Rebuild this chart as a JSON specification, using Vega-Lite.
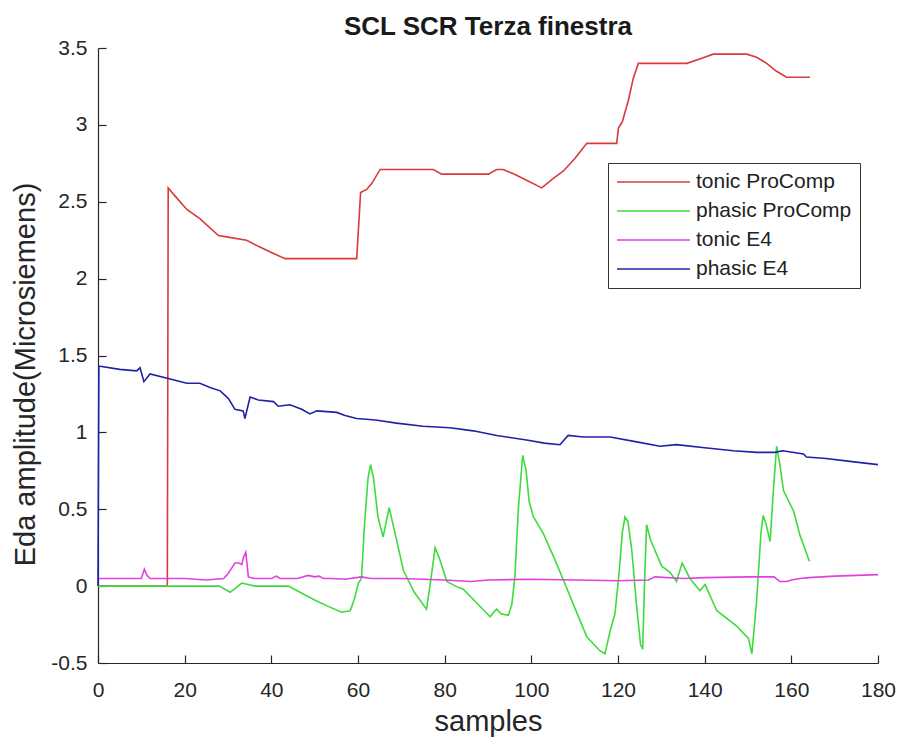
{
  "$schema": "https://vega.github.io/schema/vega-lite/v6.json",
  "width": 780,
  "height": 615,
  "autosize": "none",
  "padding": {"left": 98, "top": 48, "right": 24, "bottom": 82},
  "background": "white",
  "title": {"text": "SCL SCR Terza finestra", "font": "Liberation Sans", "fontSize": 26, "fontWeight": "bold", "color": "#1a1a1a", "anchor": "middle", "offset": -3},
  "config": {
    "view": {"stroke": null},
    "axis": {"grid": false, "labelFlush": false, "domainColor": "#262626", "tickColor": "#262626", "domainWidth": 1.2, "tickWidth": 1.2, "tickSize": -8, "labelFont": "Liberation Sans", "labelFontSize": 21, "labelColor": "#262626", "titleFont": "Liberation Sans", "titleFontSize": 29, "titleFontWeight": "normal", "titleColor": "#262626"}
  },
  "data": {"values": [
    {"s": "tonic ProComp", "x": 0, "y": 0}, {"s": "tonic ProComp", "x": 16, "y": 0}, {"s": "tonic ProComp", "x": 16.2, "y": 2.59}, {"s": "tonic ProComp", "x": 18, "y": 2.53}, {"s": "tonic ProComp", "x": 20.5, "y": 2.45}, {"s": "tonic ProComp", "x": 23.5, "y": 2.39}, {"s": "tonic ProComp", "x": 27.8, "y": 2.28}, {"s": "tonic ProComp", "x": 30, "y": 2.27}, {"s": "tonic ProComp", "x": 34.3, "y": 2.25}, {"s": "tonic ProComp", "x": 37, "y": 2.21}, {"s": "tonic ProComp", "x": 40, "y": 2.17}, {"s": "tonic ProComp", "x": 43.2, "y": 2.13}, {"s": "tonic ProComp", "x": 59.7, "y": 2.13}, {"s": "tonic ProComp", "x": 60.6, "y": 2.56}, {"s": "tonic ProComp", "x": 62, "y": 2.58}, {"s": "tonic ProComp", "x": 63.2, "y": 2.62}, {"s": "tonic ProComp", "x": 65.1, "y": 2.71}, {"s": "tonic ProComp", "x": 77.4, "y": 2.71}, {"s": "tonic ProComp", "x": 79.3, "y": 2.68}, {"s": "tonic ProComp", "x": 90.1, "y": 2.68}, {"s": "tonic ProComp", "x": 92, "y": 2.71}, {"s": "tonic ProComp", "x": 93.5, "y": 2.71}, {"s": "tonic ProComp", "x": 96, "y": 2.68}, {"s": "tonic ProComp", "x": 98.9, "y": 2.64}, {"s": "tonic ProComp", "x": 102.4, "y": 2.59}, {"s": "tonic ProComp", "x": 105, "y": 2.65}, {"s": "tonic ProComp", "x": 107.4, "y": 2.7}, {"s": "tonic ProComp", "x": 110, "y": 2.78}, {"s": "tonic ProComp", "x": 112.8, "y": 2.88}, {"s": "tonic ProComp", "x": 119.7, "y": 2.88}, {"s": "tonic ProComp", "x": 120.1, "y": 2.98}, {"s": "tonic ProComp", "x": 121, "y": 3.02}, {"s": "tonic ProComp", "x": 122.4, "y": 3.16}, {"s": "tonic ProComp", "x": 123.5, "y": 3.3}, {"s": "tonic ProComp", "x": 124.7, "y": 3.4}, {"s": "tonic ProComp", "x": 135.9, "y": 3.4}, {"s": "tonic ProComp", "x": 139, "y": 3.43}, {"s": "tonic ProComp", "x": 142, "y": 3.46}, {"s": "tonic ProComp", "x": 149.7, "y": 3.46}, {"s": "tonic ProComp", "x": 152, "y": 3.44}, {"s": "tonic ProComp", "x": 154.3, "y": 3.4}, {"s": "tonic ProComp", "x": 156.5, "y": 3.35}, {"s": "tonic ProComp", "x": 158.9, "y": 3.31}, {"s": "tonic ProComp", "x": 164.3, "y": 3.31},

    {"s": "phasic ProComp", "x": 0, "y": 0}, {"s": "phasic ProComp", "x": 28, "y": 0}, {"s": "phasic ProComp", "x": 30.5, "y": -0.04}, {"s": "phasic ProComp", "x": 33.2, "y": 0.02}, {"s": "phasic ProComp", "x": 36.2, "y": 0}, {"s": "phasic ProComp", "x": 43.9, "y": 0}, {"s": "phasic ProComp", "x": 46.6, "y": -0.04}, {"s": "phasic ProComp", "x": 50, "y": -0.09}, {"s": "phasic ProComp", "x": 53, "y": -0.13}, {"s": "phasic ProComp", "x": 56.2, "y": -0.17}, {"s": "phasic ProComp", "x": 58.2, "y": -0.16}, {"s": "phasic ProComp", "x": 59.2, "y": -0.08}, {"s": "phasic ProComp", "x": 60.1, "y": 0.02}, {"s": "phasic ProComp", "x": 60.8, "y": 0.05}, {"s": "phasic ProComp", "x": 61.5, "y": 0.4}, {"s": "phasic ProComp", "x": 62.3, "y": 0.7}, {"s": "phasic ProComp", "x": 62.9, "y": 0.79}, {"s": "phasic ProComp", "x": 63.6, "y": 0.7}, {"s": "phasic ProComp", "x": 64.6, "y": 0.45}, {"s": "phasic ProComp", "x": 65.8, "y": 0.32}, {"s": "phasic ProComp", "x": 67.2, "y": 0.51}, {"s": "phasic ProComp", "x": 68.5, "y": 0.35}, {"s": "phasic ProComp", "x": 70.5, "y": 0.1}, {"s": "phasic ProComp", "x": 73, "y": -0.04}, {"s": "phasic ProComp", "x": 75.8, "y": -0.15}, {"s": "phasic ProComp", "x": 76.6, "y": 0}, {"s": "phasic ProComp", "x": 77.8, "y": 0.25}, {"s": "phasic ProComp", "x": 78.8, "y": 0.18}, {"s": "phasic ProComp", "x": 80.5, "y": 0.03}, {"s": "phasic ProComp", "x": 82.5, "y": 0}, {"s": "phasic ProComp", "x": 84.3, "y": -0.02}, {"s": "phasic ProComp", "x": 87.4, "y": -0.11}, {"s": "phasic ProComp", "x": 90.5, "y": -0.2}, {"s": "phasic ProComp", "x": 91.3, "y": -0.17}, {"s": "phasic ProComp", "x": 92, "y": -0.15}, {"s": "phasic ProComp", "x": 93, "y": -0.18}, {"s": "phasic ProComp", "x": 94.7, "y": -0.19}, {"s": "phasic ProComp", "x": 95.5, "y": -0.12}, {"s": "phasic ProComp", "x": 96.2, "y": 0.06}, {"s": "phasic ProComp", "x": 97, "y": 0.5}, {"s": "phasic ProComp", "x": 98, "y": 0.85}, {"s": "phasic ProComp", "x": 98.8, "y": 0.75}, {"s": "phasic ProComp", "x": 99.5, "y": 0.55}, {"s": "phasic ProComp", "x": 100.5, "y": 0.45}, {"s": "phasic ProComp", "x": 102.8, "y": 0.34}, {"s": "phasic ProComp", "x": 105, "y": 0.2}, {"s": "phasic ProComp", "x": 107.4, "y": 0.04}, {"s": "phasic ProComp", "x": 110, "y": -0.14}, {"s": "phasic ProComp", "x": 112.8, "y": -0.33}, {"s": "phasic ProComp", "x": 115.8, "y": -0.42}, {"s": "phasic ProComp", "x": 117, "y": -0.44}, {"s": "phasic ProComp", "x": 118.2, "y": -0.29}, {"s": "phasic ProComp", "x": 119.3, "y": -0.18}, {"s": "phasic ProComp", "x": 120.3, "y": 0.1}, {"s": "phasic ProComp", "x": 121, "y": 0.35}, {"s": "phasic ProComp", "x": 121.6, "y": 0.45}, {"s": "phasic ProComp", "x": 122.3, "y": 0.42}, {"s": "phasic ProComp", "x": 123.2, "y": 0.23}, {"s": "phasic ProComp", "x": 124.2, "y": -0.1}, {"s": "phasic ProComp", "x": 125.2, "y": -0.38}, {"s": "phasic ProComp", "x": 125.7, "y": -0.41}, {"s": "phasic ProComp", "x": 126.1, "y": 0}, {"s": "phasic ProComp", "x": 126.6, "y": 0.4}, {"s": "phasic ProComp", "x": 127.5, "y": 0.3}, {"s": "phasic ProComp", "x": 130.1, "y": 0.13}, {"s": "phasic ProComp", "x": 132, "y": 0.09}, {"s": "phasic ProComp", "x": 133.5, "y": 0.03}, {"s": "phasic ProComp", "x": 134.8, "y": 0.15}, {"s": "phasic ProComp", "x": 136.6, "y": 0.05}, {"s": "phasic ProComp", "x": 138.9, "y": -0.03}, {"s": "phasic ProComp", "x": 140.1, "y": 0.01}, {"s": "phasic ProComp", "x": 142.8, "y": -0.16}, {"s": "phasic ProComp", "x": 147.4, "y": -0.26}, {"s": "phasic ProComp", "x": 150.1, "y": -0.34}, {"s": "phasic ProComp", "x": 150.9, "y": -0.44}, {"s": "phasic ProComp", "x": 152, "y": -0.09}, {"s": "phasic ProComp", "x": 153, "y": 0.35}, {"s": "phasic ProComp", "x": 153.5, "y": 0.46}, {"s": "phasic ProComp", "x": 154.2, "y": 0.4}, {"s": "phasic ProComp", "x": 155.1, "y": 0.29}, {"s": "phasic ProComp", "x": 155.8, "y": 0.6}, {"s": "phasic ProComp", "x": 156.6, "y": 0.91}, {"s": "phasic ProComp", "x": 157.3, "y": 0.8}, {"s": "phasic ProComp", "x": 158.2, "y": 0.62}, {"s": "phasic ProComp", "x": 160.5, "y": 0.49}, {"s": "phasic ProComp", "x": 162, "y": 0.33}, {"s": "phasic ProComp", "x": 164.2, "y": 0.16},

    {"s": "tonic E4", "x": 0, "y": 0.05}, {"s": "tonic E4", "x": 10, "y": 0.05}, {"s": "tonic E4", "x": 10.7, "y": 0.11}, {"s": "tonic E4", "x": 11.3, "y": 0.07}, {"s": "tonic E4", "x": 12, "y": 0.05}, {"s": "tonic E4", "x": 20, "y": 0.05}, {"s": "tonic E4", "x": 25, "y": 0.04}, {"s": "tonic E4", "x": 29, "y": 0.05}, {"s": "tonic E4", "x": 30, "y": 0.08}, {"s": "tonic E4", "x": 31.6, "y": 0.15}, {"s": "tonic E4", "x": 32.5, "y": 0.15}, {"s": "tonic E4", "x": 33.2, "y": 0.14}, {"s": "tonic E4", "x": 33.6, "y": 0.19}, {"s": "tonic E4", "x": 34.1, "y": 0.22}, {"s": "tonic E4", "x": 34.7, "y": 0.06}, {"s": "tonic E4", "x": 36, "y": 0.05}, {"s": "tonic E4", "x": 40, "y": 0.05}, {"s": "tonic E4", "x": 41.2, "y": 0.065}, {"s": "tonic E4", "x": 42, "y": 0.05}, {"s": "tonic E4", "x": 46, "y": 0.05}, {"s": "tonic E4", "x": 48.5, "y": 0.07}, {"s": "tonic E4", "x": 50, "y": 0.06}, {"s": "tonic E4", "x": 51, "y": 0.065}, {"s": "tonic E4", "x": 52, "y": 0.05}, {"s": "tonic E4", "x": 54, "y": 0.05}, {"s": "tonic E4", "x": 57, "y": 0.045}, {"s": "tonic E4", "x": 60.8, "y": 0.06}, {"s": "tonic E4", "x": 63, "y": 0.05}, {"s": "tonic E4", "x": 70, "y": 0.05}, {"s": "tonic E4", "x": 80, "y": 0.04}, {"s": "tonic E4", "x": 86, "y": 0.03}, {"s": "tonic E4", "x": 90, "y": 0.04}, {"s": "tonic E4", "x": 100, "y": 0.045}, {"s": "tonic E4", "x": 110, "y": 0.04}, {"s": "tonic E4", "x": 120, "y": 0.035}, {"s": "tonic E4", "x": 127, "y": 0.04}, {"s": "tonic E4", "x": 128.5, "y": 0.06}, {"s": "tonic E4", "x": 135, "y": 0.05}, {"s": "tonic E4", "x": 140, "y": 0.055}, {"s": "tonic E4", "x": 150, "y": 0.06}, {"s": "tonic E4", "x": 156, "y": 0.06}, {"s": "tonic E4", "x": 157.4, "y": 0.03}, {"s": "tonic E4", "x": 159, "y": 0.03}, {"s": "tonic E4", "x": 160, "y": 0.04}, {"s": "tonic E4", "x": 162, "y": 0.05}, {"s": "tonic E4", "x": 164, "y": 0.055}, {"s": "tonic E4", "x": 170, "y": 0.065}, {"s": "tonic E4", "x": 175, "y": 0.07}, {"s": "tonic E4", "x": 180, "y": 0.075},

    {"s": "phasic E4", "x": 0, "y": 0}, {"s": "phasic E4", "x": 0.2, "y": 1.43}, {"s": "phasic E4", "x": 0.5, "y": 1.43}, {"s": "phasic E4", "x": 5, "y": 1.41}, {"s": "phasic E4", "x": 8.9, "y": 1.4}, {"s": "phasic E4", "x": 9.7, "y": 1.42}, {"s": "phasic E4", "x": 10.6, "y": 1.33}, {"s": "phasic E4", "x": 12, "y": 1.38}, {"s": "phasic E4", "x": 16.2, "y": 1.35}, {"s": "phasic E4", "x": 20.5, "y": 1.32}, {"s": "phasic E4", "x": 23.5, "y": 1.32}, {"s": "phasic E4", "x": 26, "y": 1.29}, {"s": "phasic E4", "x": 28.2, "y": 1.27}, {"s": "phasic E4", "x": 30.1, "y": 1.22}, {"s": "phasic E4", "x": 31.6, "y": 1.15}, {"s": "phasic E4", "x": 33.5, "y": 1.14}, {"s": "phasic E4", "x": 33.9, "y": 1.09}, {"s": "phasic E4", "x": 35.1, "y": 1.23}, {"s": "phasic E4", "x": 37, "y": 1.21}, {"s": "phasic E4", "x": 40.5, "y": 1.2}, {"s": "phasic E4", "x": 41.6, "y": 1.17}, {"s": "phasic E4", "x": 44.3, "y": 1.18}, {"s": "phasic E4", "x": 47, "y": 1.15}, {"s": "phasic E4", "x": 48.9, "y": 1.12}, {"s": "phasic E4", "x": 50.5, "y": 1.14}, {"s": "phasic E4", "x": 55.1, "y": 1.13}, {"s": "phasic E4", "x": 57, "y": 1.11}, {"s": "phasic E4", "x": 59.7, "y": 1.09}, {"s": "phasic E4", "x": 64, "y": 1.08}, {"s": "phasic E4", "x": 68.9, "y": 1.06}, {"s": "phasic E4", "x": 75, "y": 1.04}, {"s": "phasic E4", "x": 81.2, "y": 1.03}, {"s": "phasic E4", "x": 86.6, "y": 1.01}, {"s": "phasic E4", "x": 92, "y": 0.98}, {"s": "phasic E4", "x": 98.9, "y": 0.95}, {"s": "phasic E4", "x": 103, "y": 0.93}, {"s": "phasic E4", "x": 106.6, "y": 0.92}, {"s": "phasic E4", "x": 108.5, "y": 0.98}, {"s": "phasic E4", "x": 112, "y": 0.97}, {"s": "phasic E4", "x": 118.2, "y": 0.97}, {"s": "phasic E4", "x": 124, "y": 0.94}, {"s": "phasic E4", "x": 129.7, "y": 0.91}, {"s": "phasic E4", "x": 133.5, "y": 0.92}, {"s": "phasic E4", "x": 140, "y": 0.9}, {"s": "phasic E4", "x": 146.6, "y": 0.88}, {"s": "phasic E4", "x": 152, "y": 0.87}, {"s": "phasic E4", "x": 156.2, "y": 0.87}, {"s": "phasic E4", "x": 158, "y": 0.88}, {"s": "phasic E4", "x": 162.8, "y": 0.86}, {"s": "phasic E4", "x": 163.5, "y": 0.84}, {"s": "phasic E4", "x": 168, "y": 0.83}, {"s": "phasic E4", "x": 174, "y": 0.81}, {"s": "phasic E4", "x": 180, "y": 0.79}
  ]},
  "mark": {"type": "line", "strokeWidth": 1.6},
  "encoding": {
    "x": {"field": "x", "type": "quantitative", "scale": {"domain": [0, 180], "nice": false, "zero": false},
      "axis": {"values": [0, 20, 40, 60, 80, 100, 120, 140, 160, 180], "title": "samples", "labelPadding": 24, "titleY": 67, "titleBaseline": "alphabetic"}},
    "y": {"field": "y", "type": "quantitative", "scale": {"domain": [-0.5, 3.5], "nice": false, "zero": false},
      "axis": {"values": [-0.5, 0, 0.5, 1, 1.5, 2, 2.5, 3, 3.5], "labelExpr": "replace(format(datum.value, '.1~f'), '\u2212', '-')", "title": "Eda amplitude(Microsiemens)", "labelPadding": 19, "titleX": -64, "titleY": 326, "titleBaseline": "alphabetic"}},
    "color": {"field": "s", "type": "nominal",
      "scale": {"domain": ["tonic ProComp", "phasic ProComp", "tonic E4", "phasic E4"], "range": ["#d93a3a", "#3ddc3d", "#e040e0", "#2020a8"]},
      "legend": {"orient": "none", "legendX": 510, "legendY": 115, "title": null, "symbolType": "stroke", "symbolSize": 5329, "symbolStrokeWidth": 1.6, "clipHeight": 22, "labelFontSize": 21, "labelFont": "Liberation Sans", "labelColor": "#222222", "labelOffset": 5, "rowPadding": 7, "padding": 8, "strokeColor": "#333333", "fillColor": "white", "cornerRadius": 0}}
  }
}
